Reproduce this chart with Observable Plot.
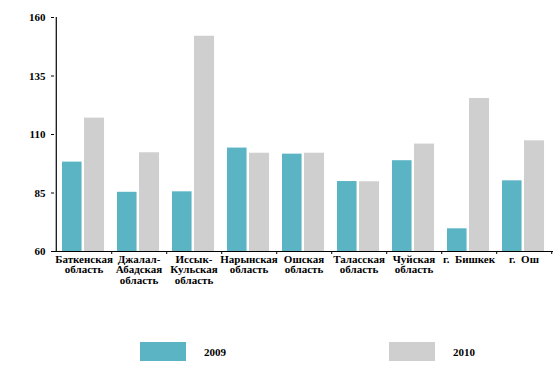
<!DOCTYPE html>
<html><head><meta charset="utf-8">
<script src="https://cdn.jsdelivr.net/npm/d3@7"></script>
<script src="https://cdn.jsdelivr.net/npm/@observablehq/plot@0.6"></script>
<style>
body{margin:0;background:#fff;}
#wrap{position:relative;width:559px;height:367px;font-family:'Liberation Serif';}
.leg{position:absolute;top:342px;height:19px;display:flex;align-items:center;font-size:11px;font-weight:bold;color:#000;font-family:'Liberation Serif';}
.sw{width:46px;height:19px;margin-right:18px;}
</style></head>
<body><div id="wrap"></div>
<script>
const categories = ["Баткенская область","Джалал-Абадская область","Иссык-Кульская область","Нарынская область","Ошская область","Таласская область","Чуйская область","г. Бишкек","г. Ош"];
const labels = ["Баткенская\nобласть","Джалал-\nАбадская\nобласть","Иссык-\nКульская\nобласть","Нарынская\nобласть","Ошская\nобласть","Таласская\nобласть","Чуйская\nобласть","г.  Бишкек","г.  Ош"];
const values2009 = [98.2, 85.3, 85.5, 104.2, 101.6, 89.9, 98.8, 69.7, 90.2];
const values2010 = [117.0, 102.2, 152.0, 102.0, 102.0, 89.8, 105.9, 125.4, 107.3];
const yTicks = [60, 85, 110, 135, 160];
const years = ["2009", "2010"];
const colors = ["#5ab4c4", "#cfcfcf"];

const data09 = categories.map((c, i) => ({cat: c, v: values2009[i]}));
const data10 = categories.map((c, i) => ({cat: c, v: values2010[i]}));
const W = 559, ML = 54, MR = 6;
const bw = (W - ML - MR) / categories.length;
const FF = "Liberation Serif";

const chart = Plot.plot({
  width: W, height: 367,
  marginLeft: ML, marginRight: MR, marginTop: 17, marginBottom: 116,
  style: {fontFamily: FF, fontSize: "11px", fontWeight: "bold", color: "#000", background: "transparent"},
  x: {type: "band", domain: categories, padding: 0, axis: null, label: null},
  y: {domain: [60, 160], axis: null, label: null},
  marks: [
    Plot.barY(data09, {x: "cat", y1: () => 60, y2: "v", fill: colors[0], insetLeft: 6, insetRight: bw - 26}),
    Plot.barY(data10, {x: "cat", y1: () => 60, y2: "v", fill: colors[1], insetLeft: 28, insetRight: bw - 48.5}),
    Plot.ruleY([60], {stroke: "#000", strokeWidth: 1.2}),
    Plot.ruleX([categories[0]], {y1: 60, y2: 160, dx: -bw/2, stroke: "#000", strokeWidth: 1.2}),
    Plot.axisX({tickSize: 0, tickPadding: 4, label: null, tickFormat: (d) => labels[categories.indexOf(d)], lineHeight: 0.95, fontSize: 11, fontWeight: "bold", fontFamily: FF}),
    Plot.axisX({tickSize: 3, text: null, label: null, dx: bw/2}),
    Plot.axisY({ticks: yTicks, tickSize: 3, tickPadding: 6, label: null, fontSize: 11, fontWeight: "bold", fontFamily: FF})
  ]
});
const wrap = document.getElementById("wrap");
wrap.appendChild(chart);
const legPos = [140, 389];
years.forEach((y, i) => {
  const d = document.createElement("div");
  d.className = "leg";
  d.style.left = legPos[i] + "px";
  d.innerHTML = `<div class="sw" style="background:${colors[i]}"></div><span>${y}</span>`;
  wrap.appendChild(d);
});
</script></body></html>
